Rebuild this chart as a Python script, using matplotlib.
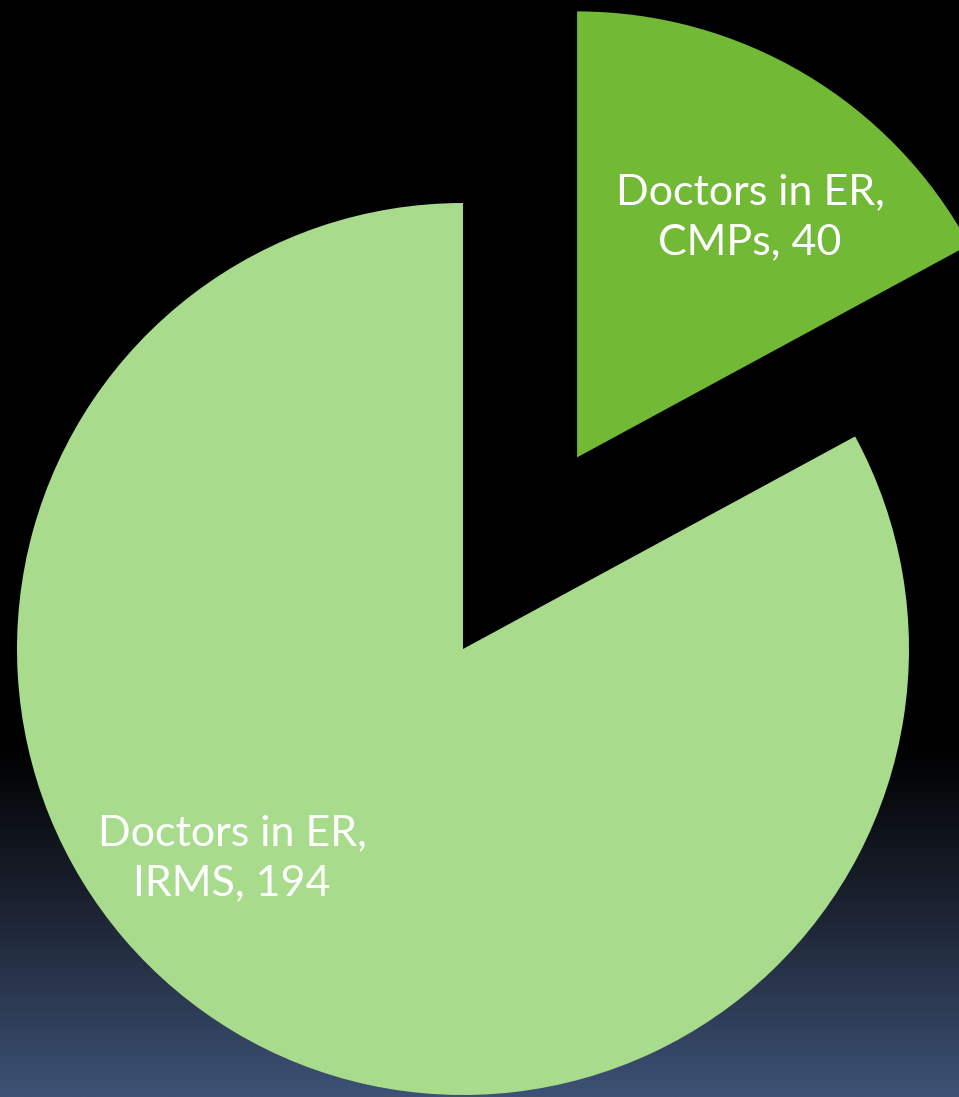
import numpy as np
import matplotlib
matplotlib.use("Agg")
import matplotlib.pyplot as plt
from matplotlib.colors import LinearSegmentedColormap

# Data
categories = ["Doctors in ER, CMPs", "Doctors in ER, IRMS"]
values = [40, 194]
colors = ["#72b935", "#a8dc8c"]
label_texts = ["Doctors in ER,\nCMPs, 40", "Doctors in ER,\nIRMS, 194"]

W, H = 959, 1097
fig = plt.figure(figsize=(W / 100, H / 100), dpi=100)

# background gradient
bg = fig.add_axes([0, 0, 1, 1], zorder=0)
bg.axis("off")
ys = np.linspace(0, 1, 400)
t = np.clip((ys - 0.68) / (1 - 0.68), 0, 1)
cmap = LinearSegmentedColormap.from_list(
    "bg", [(0, "#000000"), (0.45, "#1b2230"), (1.0, "#3d5275")])
bg.imshow(t[:, None], aspect="auto", cmap=cmap, vmin=0, vmax=1,
          extent=[0, 1, 1, 0])
bg.set_xlim(0, 1)
bg.set_ylim(1, 0)

ax = fig.add_axes([0, 0, 1, 1], zorder=1)
ax.patch.set_alpha(0)

radius = 446
center = (463, H - 649)
wedges, _ = ax.pie(values, colors=colors, startangle=90, counterclock=False,
                   radius=radius, center=center,
                   explode=[0.5 * radius, 0], frame=True)
ax.set_xlim(0, W)
ax.set_ylim(0, H)
ax.set_aspect("equal")
ax.axis("off")

font = ["Lato", "DejaVu Sans"]
ax.text(750, H - 217, label_texts[0], color="white", fontsize=31,
        ha="center", va="center", family=font, linespacing=1.4)
ax.text(232, H - 858, label_texts[1], color="white", fontsize=31,
        ha="center", va="center", family=font, linespacing=1.4)

fig.savefig("out.png", dpi=100)
